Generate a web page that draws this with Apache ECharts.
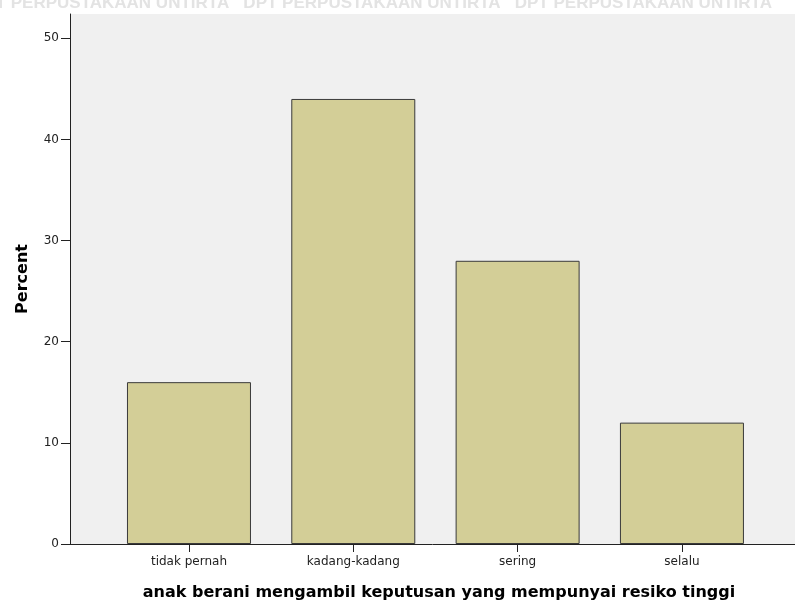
<!DOCTYPE html>
<html>
<head>
<meta charset="utf-8">
<script src="https://cdn.jsdelivr.net/npm/echarts@6/dist/echarts.min.js"></script>
<style>html,body{margin:0;padding:0;background:#fff}#c{width:795px;height:603px}</style>
</head>
<body>
<div id="c"></div>
<script>
const categories = ['tidak pernah', 'kadang-kadang', 'sering', 'selalu'];
const percentValues = [16, 44, 28, 12];
const yTicks = [0, 10, 20, 30, 40, 50];
const xTitle = 'anak berani mengambil keputusan yang mempunyai resiko tinggi';
const yTitle = 'Percent';
const watermark = 'DPT PERPUSTAKAAN UNTIRTA   DPT PERPUSTAKAAN UNTIRTA   DPT PERPUSTAKAAN UNTIRTA';

const chart = echarts.init(document.getElementById('c'), null, {renderer: 'canvas'});
const font = 'DejaVu Sans';
chart.setOption({
  animation: false,
  backgroundColor: '#ffffff',
  graphic: [{
    type: 'text', left: -28, top: -5, silent: true,
    style: {text: watermark, fill: '#e3e3e3', font: 'bold 17px "Liberation Sans"'}
  }],
  grid: {left: 70, right: 0, top: 14, bottom: 59, show: true, backgroundColor: '#f0f0f0', borderWidth: 0, outerBoundsMode: 'none', containLabel: false},
  xAxis: {
    type: 'value', min: -0.724, max: 3.688,
    splitLine: {show: false},
    axisLine: {show: true, onZero: false, lineStyle: {color: '#222', width: 1}},
    axisTick: {show: true, customValues: [0, 1, 2, 3], length: 8, lineStyle: {color: '#222'}},
    axisLabel: {show: true, customValues: [0, 1, 2, 3], formatter: v => categories[Math.round(v)], color: '#222', fontFamily: font, fontSize: 12, margin: 12},
    name: xTitle, nameLocation: 'middle', nameGap: 41,
    nameTextStyle: {fontFamily: font, fontWeight: 'bold', fontSize: 16, color: '#000', padding: [0, 0, 0, 13]}
  },
  yAxis: {
    type: 'value', min: 0, max: 52.4,
    splitLine: {show: false},
    axisLine: {show: true, onZero: false, lineStyle: {color: '#222', width: 1}},
    axisTick: {show: true, customValues: yTicks, length: 9, lineStyle: {color: '#222'}},
    axisLabel: {show: true, customValues: yTicks, color: '#222', fontFamily: font, fontSize: 12, margin: 11},
    name: yTitle, nameLocation: 'middle', nameGap: 39,
    nameTextStyle: {fontFamily: font, fontWeight: 'bold', fontSize: 16, color: '#000'}
  },
  series: [{
    type: 'bar',
    barWidth: 124,
    data: percentValues.map((v, i) => [i, v]),
    itemStyle: {color: '#d3ce97', borderColor: '#3a3a3a', borderWidth: 1}
  }]
});
</script>
</body>
</html>
